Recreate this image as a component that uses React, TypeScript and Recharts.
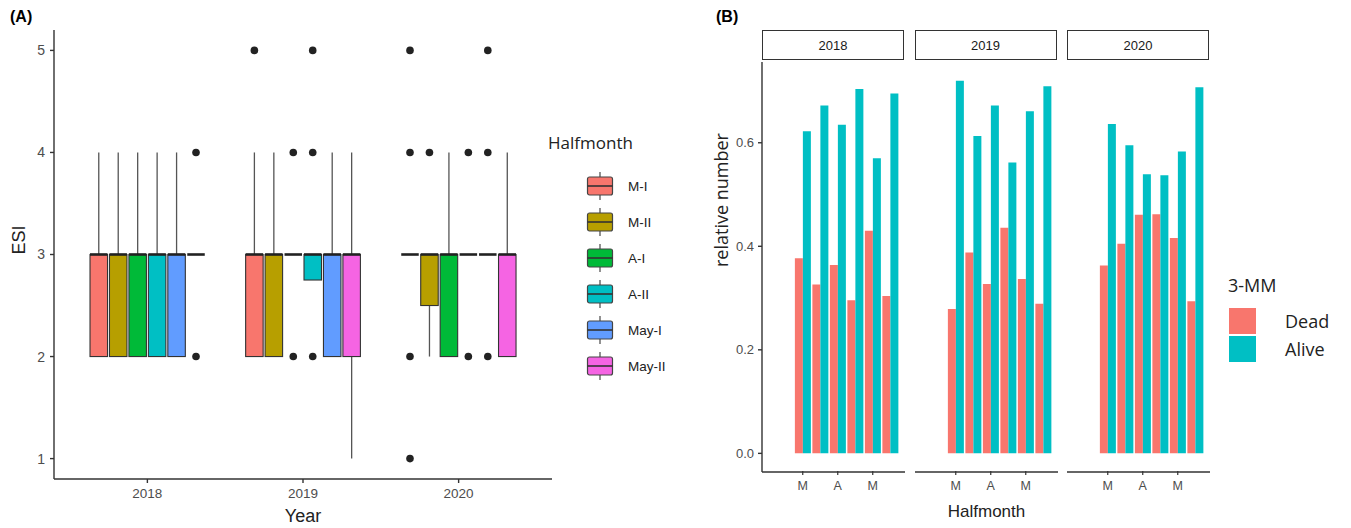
import React from "react";
import { ComposedChart, BarChart, Bar, Scatter, XAxis, YAxis, Cell } from "recharts";

const years = [2018, 2019, 2020];
const halfmonths = ["M-I", "M-II", "A-I", "A-II", "May-I", "May-II"];
const halfmonthTicks = ["M", "", "A", "", "M", ""];

// ESI box stats per halfmonth: [lower whisker, q1, median, q3, upper whisker]
const esi2018 = [
  [2, 2, 3, 3, 4],
  [2, 2, 3, 3, 4],
  [2, 2, 3, 3, 4],
  [2, 2, 3, 3, 4],
  [2, 2, 3, 3, 4],
  [3, 3, 3, 3, 3],
];
const esi2019 = [
  [2, 2, 3, 3, 4],
  [2, 2, 3, 3, 4],
  [3, 3, 3, 3, 3],
  [2.75, 2.75, 3, 3, 3],
  [2, 2, 3, 3, 4],
  [1, 2, 3, 3, 4],
];
const esi2020 = [
  [3, 3, 3, 3, 3],
  [2, 2.5, 3, 3, 3],
  [2, 2, 3, 3, 4],
  [3, 3, 3, 3, 3],
  [3, 3, 3, 3, 3],
  [2, 2, 3, 3, 4],
];
const outliers2018 = [[], [], [], [], [], [4, 2]];
const outliers2019 = [[5], [], [4, 2], [5, 4, 2], [], []];
const outliers2020 = [[5, 4, 2, 1], [4], [], [4, 2], [5, 4, 2], []];

// relative number of dead / alive per halfmonth
const dead2018 = [0.377, 0.326, 0.364, 0.296, 0.43, 0.304];
const alive2018 = [0.622, 0.672, 0.635, 0.704, 0.57, 0.695];
const dead2019 = [0.279, 0.388, 0.327, 0.436, 0.337, 0.289];
const alive2019 = [0.72, 0.613, 0.672, 0.562, 0.661, 0.709];
const dead2020 = [0.363, 0.405, 0.461, 0.462, 0.416, 0.294];
const alive2020 = [0.636, 0.595, 0.539, 0.537, 0.583, 0.707];

const hmColors = ["#F8766D", "#B79F00", "#00BA38", "#00BFC4", "#619CFF", "#F564E3"];
const DEAD = "#F8766D";
const ALIVE = "#00BFC4";
const AXIS = "#333333";
const TICK = "#4D4D4D";
const FONT = "'Liberation Sans', Arial, sans-serif";
const FONT2 = "'Open Sans', 'Noto Sans', sans-serif";

const esiBoxes = [esi2018, esi2019, esi2020];
const esiOutliers = [outliers2018, outliers2019, outliers2020];
const DODGE = 0.75 / halfmonths.length;
const BOX_W = 17.5;

const boxRows = years.flatMap((yr, yi) =>
  halfmonths.map((hm, hi) => {
    const [lo, q1, med, q3, up] = esiBoxes[yi][hi];
    return { x: yr + (hi - 2.5) * DODGE, hm, hi, whisker: [lo, up], box: [q1, q3], median: med };
  })
);

const outlierRows = years.flatMap((yr, yi) =>
  esiOutliers[yi].flatMap((vals, hi) => vals.map((v) => ({ x: yr + (hi - 2.5) * DODGE, y: v })))
);

const facets = [
  { year: 2018, dead: dead2018, alive: alive2018 },
  { year: 2019, dead: dead2019, alive: alive2019 },
  { year: 2020, dead: dead2020, alive: alive2020 },
].map((f) => ({
  year: f.year,
  rows: halfmonths.map((hm, i) => ({ hm, dead: f.dead[i], alive: f.alive[i] })),
}));

const WhiskerShape = (p: any) => {
  const top = Math.min(p.y, p.y + p.height);
  const h = Math.abs(p.height);
  if (!h) return <g />;
  const cx = p.x + p.width / 2;
  return <line x1={cx} x2={cx} y1={top} y2={top + h} stroke="#555" strokeWidth={1.3} />;
};

const BoxShape = (p: any) => {
  const top = Math.min(p.y, p.y + p.height);
  const h = Math.abs(p.height);
  if (!h) return <g />;
  return <rect x={p.x} y={top} width={p.width} height={h} fill={p.fill} stroke={AXIS} strokeWidth={1.1} />;
};

const MedianShape = (p: any) => (
  <line x1={p.cx - BOX_W / 2} x2={p.cx + BOX_W / 2} y1={p.cy} y2={p.cy} stroke="#222" strokeWidth={2.6} />
);

const OutlierShape = (p: any) => <circle cx={p.cx} cy={p.cy} r={3.8} fill="#222" />;

const xDomain = [2017.4, 2020.6];

const PanelA = () => (
  <ComposedChart
    width={560}
    height={528}
    data={boxRows}
    margin={{ top: 30, right: 8, bottom: 0, left: 0 }}
  >
    <XAxis
      xAxisId="w"
      type="number"
      dataKey="x"
      domain={xDomain}
      allowDataOverflow
      hide
    />
    <XAxis
      xAxisId="b"
      type="number"
      dataKey="x"
      domain={xDomain}
      allowDataOverflow
      ticks={years}
      height={49}
      tickSize={4}
      tickMargin={5}
      stroke={AXIS}
      strokeWidth={1.4}
      tick={{ fill: TICK, fontSize: 13.5, fontFamily: FONT }}
      label={{ value: "Year", position: "insideBottom", offset: 6, fill: "#222", fontSize: 18, fontFamily: FONT }}
    />
    <YAxis
      type="number"
      domain={[0.8, 5.2]}
      allowDataOverflow
      ticks={[1, 2, 3, 4, 5]}
      width={54}
      tickSize={4}
      tickMargin={5}
      stroke={AXIS}
      strokeWidth={1.4}
      tick={{ fill: TICK, fontSize: 14, fontFamily: FONT }}
      label={{ value: "ESI", angle: -90, position: "insideLeft", offset: 19, fill: "#222", fontSize: 18, fontFamily: FONT }}
    />
    <Bar xAxisId="w" dataKey="whisker" barSize={BOX_W} shape={WhiskerShape} isAnimationActive={false} />
    <Bar xAxisId="b" dataKey="box" barSize={BOX_W} shape={BoxShape} isAnimationActive={false}>
      {boxRows.map((r, i) => (
        <Cell key={i} fill={hmColors[r.hi]} />
      ))}
    </Bar>
    <Scatter xAxisId="b" dataKey="median" shape={MedianShape} isAnimationActive={false} />
    <Scatter xAxisId="b" data={outlierRows} dataKey="y" shape={OutlierShape} isAnimationActive={false} />
  </ComposedChart>
);

const LegendA = () => (
  <div style={{ position: "absolute", left: 548, top: 130, fontFamily: FONT2 }}>
    <div style={{ fontSize: 17, color: "#222", lineHeight: "26px" }}>Halfmonth</div>
    <div style={{ marginTop: 12 }}>
      {halfmonths.map((hm, i) => (
        <div key={hm} style={{ display: "flex", alignItems: "center", height: 36, marginLeft: 38 }}>
          <svg width={28} height={30}>
            <line x1={14} x2={14} y1={1} y2={29} stroke="#555" strokeWidth={1.3} />
            <rect x={1.5} y={6} width={25} height={18} rx={2} fill={hmColors[i]} stroke="#444" strokeWidth={1.2} />
            <line x1={1.5} x2={26.5} y1={15} y2={15} stroke="#333" strokeWidth={1.6} />
          </svg>
          <span style={{ fontSize: 13.5, color: "#222", marginLeft: 14, fontFamily: FONT }}>{hm}</span>
        </div>
      ))}
    </div>
  </div>
);

const FacetTick = (p: any) => {
  const label = halfmonthTicks[p.index] ?? "";
  if (!label) return <g />;
  return (
    <g>
      <line x1={p.x} x2={p.x} y1={p.y - 9} y2={p.y - 5} stroke={AXIS} strokeWidth={1.2} />
      <text x={p.x} y={p.y + 10} textAnchor="middle" fill={TICK} fontSize={12.5} fontFamily={FONT}>
        {label}
      </text>
    </g>
  );
};

const FACET_LEFT = [762, 914.5, 1067];
const FACET_W = 143;
const Y_W = 62;

const Facet = ({ idx }: { idx: number }) => {
  const f = facets[idx];
  const first = idx === 0;
  const width = FACET_W + (first ? Y_W : 0);
  return (
    <div style={{ position: "absolute", left: FACET_LEFT[idx] - (first ? Y_W : 0), top: 0 }}>
      <BarChart
        width={width}
        height={528}
        data={f.rows}
        margin={{ top: 62, right: 0, bottom: 0, left: 0 }}
        barCategoryGap="5%"
        barGap={0}
      >
        <XAxis
          dataKey="hm"
          interval={0}
          padding={{ left: 32, right: 6 }}
          height={56}
          tickLine={false}
          stroke={AXIS}
          strokeWidth={1.4}
          tick={<FacetTick />}
          label={
            idx === 1
              ? { value: "Halfmonth", position: "insideBottom", offset: 11, fill: "#222", fontSize: 17, fontFamily: FONT }
              : undefined
          }
        />
        <YAxis
          hide={!first}
          type="number"
          domain={[-0.036, 0.756]}
          allowDataOverflow
          ticks={[0, 0.2, 0.4, 0.6]}
          tickFormatter={(v: number) => v.toFixed(1)}
          width={Y_W}
          tickSize={4}
          tickMargin={4}
          stroke={AXIS}
          strokeWidth={1.4}
          tick={{ fill: TICK, fontSize: 13, fontFamily: FONT }}
          label={{ value: "relative number", angle: -90, position: "insideLeft", offset: 22, fill: "#222", fontSize: 18, fontFamily: FONT2 }}
        />
        <Bar dataKey="dead" fill={DEAD} isAnimationActive={false} />
        <Bar dataKey="alive" fill={ALIVE} isAnimationActive={false} />
      </BarChart>
      <div
        style={{
          position: "absolute",
          left: first ? Y_W : 0,
          top: 30,
          width: FACET_W - 3,
          height: 28,
          border: "1.8px solid #333",
          background: "#fff",
          display: "flex",
          alignItems: "center",
          justifyContent: "center",
          fontFamily: FONT,
          fontSize: 13,
          color: "#1A1A1A",
        }}
      >
        {f.year}
      </div>
    </div>
  );
};

const LegendB = () => (
  <div style={{ position: "absolute", left: 1228, top: 272, fontFamily: FONT2 }}>
    <div style={{ fontSize: 18, color: "#222", lineHeight: "26px" }}>3-MM</div>
    <div style={{ marginTop: 9 }}>
      {[
        { name: "Dead", color: DEAD },
        { name: "Alive", color: ALIVE },
      ].map((k) => (
        <div key={k.name} style={{ display: "flex", alignItems: "center", height: 28 }}>
          <div style={{ width: 27, height: 26, background: k.color, border: "1px solid #fff" }} />
          <span style={{ fontSize: 18, color: "#222", marginLeft: 28 }}>{k.name}</span>
        </div>
      ))}
    </div>
  </div>
);

export default function App() {
  return (
    <div
      style={{
        position: "absolute",
        left: 0,
        top: 0,
        width: 1351,
        height: 528,
        background: "#fff",
        fontFamily: FONT,
        overflow: "hidden",
      }}
    >
      <div style={{ position: "absolute", left: 10, top: 8, fontWeight: "bold", fontSize: 16 }}>(A)</div>
      <div style={{ position: "absolute", left: 716, top: 8, fontWeight: "bold", fontSize: 16 }}>(B)</div>
      <div style={{ position: "absolute", left: 0, top: 0 }}>
        <PanelA />
      </div>
      <LegendA />
      {facets.map((_, i) => (
        <Facet key={i} idx={i} />
      ))}
      <LegendB />
    </div>
  );
}
